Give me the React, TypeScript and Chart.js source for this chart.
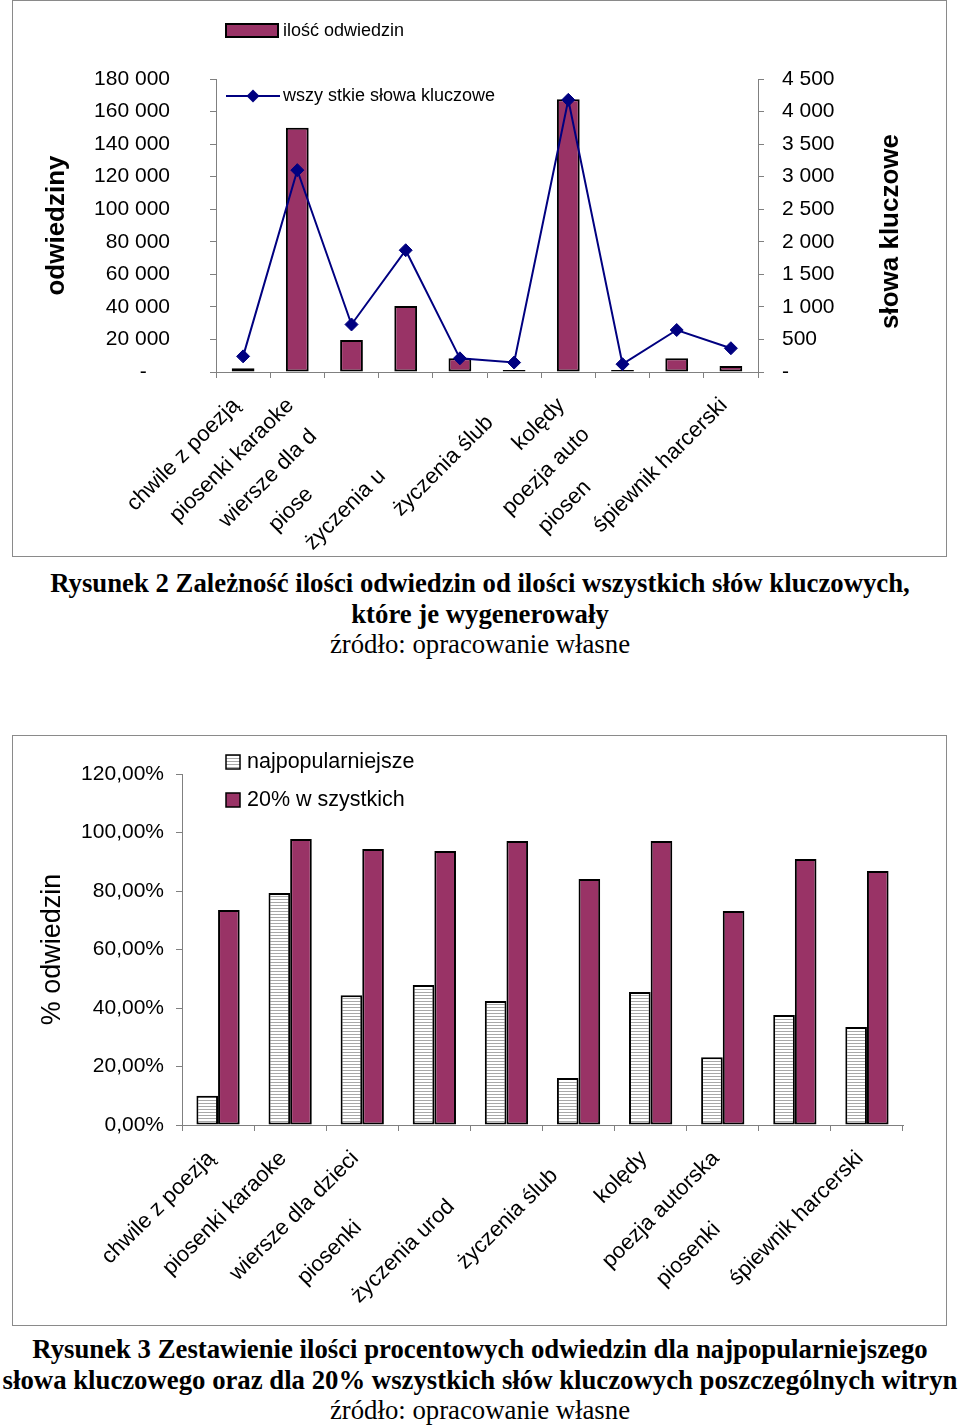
import React, { useEffect, useRef } from 'react';
import { Chart, registerables } from 'chart.js';

Chart.register(...registerables);

const FONT = "'Liberation Sans', Arial, sans-serif";
const SERIF = "'Liberation Serif', 'Times New Roman', serif";
const PLUM = '#993366';
const NAVY = '#000080';
const AXIS = '#808080';

// ---- data ----
const categories = [
  'chwile z poezją',
  'piosenki karaoke',
  'wiersze dla dzieci',
  'piosenki dla dzieci',
  'życzenia urodzinowe',
  'życzenia ślubne',
  'kolędy',
  'poezja autorska',
  'piosenki biesiadne',
  'śpiewnik harcerski',
];
// visible (clipped) parts of the category labels as they appear on each chart
const shownLabels1 = [
  'chwile z poezją', 'piosenki karaoke', 'wiersze dla d', 'piose', 'życzenia u',
  'życzenia ślub', 'kolędy', 'poezja auto', 'piosen', 'śpiewnik harcerski',
];
const shownLabels2 = [
  'chwile z poezją', 'piosenki karaoke', 'wiersze dla dzieci', 'piosenki', 'życzenia urod',
  'życzenia ślub', 'kolędy', 'poezja autorska', 'piosenki', 'śpiewnik harcerski',
];
const visits = [2300, 150000, 19700, 40500, 8400, 1200, 167500, 1200, 8400, 3700];
const keywords = [240, 3100, 730, 1870, 210, 145, 4180, 120, 645, 365];
const popularPct = [10.0, 79.3, 44.4, 47.9, 42.4, 16.1, 45.5, 23.2, 37.6, 33.5];
const top20Pct = [73.5, 97.8, 94.4, 93.7, 97.1, 84.1, 97.1, 73.2, 90.9, 86.8];

const visitsAxis = { min: 0, max: 180000, step: 20000 };
const keywordsAxis = { min: 0, max: 4500, step: 500 };
const pctAxis = { min: 0, max: 120, step: 20 };

const caption1 = [
  'Rysunek 2 Zależność ilości odwiedzin od ilości wszystkich słów kluczowych,',
  'które je wygenerowały',
  'źródło: opracowanie własne',
];
const caption2 = [
  'Rysunek 3 Zestawienie ilości procentowych odwiedzin dla najpopularniejszego',
  'słowa kluczowego oraz dla 20% wszystkich słów kluczowych poszczególnych witryn',
  'źródło: opracowanie własne',
];

const spaced = (v: number) =>
  v === 0 ? '-    ' : String(v).replace(/\B(?=(\d{3})+(?!\d))/g, ' ');
const spacedRight = (v: number) =>
  v === 0 ? '-' : String(v).replace(/\B(?=(\d{3})+(?!\d))/g, ' ');
const pctFmt = (v: number) => v.toFixed(2).replace('.', ',') + '%';

function rotatedLabels(shown: string[], full: string[]) {
  return {
    id: 'rotLabels',
    afterDraw(chart: any) {
      const sc = chart.scales.x;
      const ctx = chart.ctx;
      ctx.save();
      ctx.font = `22px ${FONT}`;
      ctx.fillStyle = '#000';
      ctx.textBaseline = 'middle';
      ctx.textAlign = 'left';
      full.forEach((f, i) => {
        const x = sc.getPixelForValue(i) - 7;
        const y = sc.top + 30;
        const w = ctx.measureText(f).width;
        ctx.save();
        ctx.translate(x, y);
        ctx.rotate(-Math.PI / 4);
        ctx.fillText(shown[i], -w, 0);
        ctx.restore();
      });
      ctx.restore();
    },
  };
}

function makeHatch(): CanvasPattern | string {
  const c = document.createElement('canvas');
  c.width = 6;
  c.height = 3;
  const g = c.getContext('2d');
  if (!g) return '#fff';
  g.fillStyle = '#ffffff';
  g.fillRect(0, 0, 6, 3);
  g.fillStyle = '#a8a8a8';
  g.fillRect(0, 1, 6, 1);
  return g.createPattern(c, 'repeat') || '#fff';
}

const axisGrid = { drawOnChartArea: false, drawTicks: true, tickLength: 6, color: AXIS, lineWidth: 1 };
const axisBorder = { display: true, color: AXIS, width: 1 };

export default function App() {
  const ref1 = useRef<HTMLCanvasElement>(null);
  const ref2 = useRef<HTMLCanvasElement>(null);

  useEffect(() => {
    Chart.defaults.font.family = FONT;
    Chart.defaults.color = '#000';
    const charts: Chart[] = [];

    if (ref1.current) {
      const extras1 = {
        id: 'extras1',
        afterDraw(chart: any) {
          const ctx = chart.ctx;
          ctx.save();
          // legend: bars
          ctx.fillStyle = PLUM;
          ctx.fillRect(213, 23, 52, 13);
          ctx.strokeStyle = '#000';
          ctx.lineWidth = 2;
          ctx.strokeRect(213, 23, 52, 13);
          ctx.fillStyle = '#000';
          ctx.font = `18px ${FONT}`;
          ctx.textBaseline = 'middle';
          ctx.textAlign = 'left';
          ctx.fillText(chart.data.datasets[1].label, 270, 30);
          // legend: line
          ctx.strokeStyle = NAVY;
          ctx.lineWidth = 2;
          ctx.beginPath();
          ctx.moveTo(213, 95);
          ctx.lineTo(267, 95);
          ctx.stroke();
          ctx.fillStyle = NAVY;
          ctx.beginPath();
          ctx.moveTo(240, 88.5);
          ctx.lineTo(246.5, 95);
          ctx.lineTo(240, 101.5);
          ctx.lineTo(233.5, 95);
          ctx.closePath();
          ctx.fill();
          ctx.fillStyle = '#000';
          ctx.fillText(chart.data.datasets[0].label, 270, 95);
          // right axis title (reads bottom-to-top)
          const y2 = chart.scales.y2;
          ctx.save();
          ctx.translate(878, (y2.top + y2.bottom) / 2 + 6);
          ctx.rotate(-Math.PI / 2);
          ctx.font = `bold 26px ${FONT}`;
          ctx.textAlign = 'center';
          ctx.textBaseline = 'middle';
          ctx.fillText('słowa kluczowe', 0, 0);
          ctx.restore();
          ctx.restore();
        },
      };

      charts.push(
        new Chart(ref1.current, {
          type: 'bar',
          data: {
            labels: categories,
            datasets: [
              {
                type: 'line',
                label: 'wszy stkie słowa kluczowe',
                data: keywords,
                yAxisID: 'y2',
                borderColor: NAVY,
                backgroundColor: NAVY,
                borderWidth: 2,
                pointStyle: 'rectRot',
                pointRadius: 6.5,
                pointBackgroundColor: NAVY,
                pointBorderColor: NAVY,
                pointBorderWidth: 1,
                tension: 0,
                order: 0,
                clip: false,
              } as any,
              {
                type: 'bar',
                label: 'ilość odwiedzin',
                data: visits,
                yAxisID: 'y',
                backgroundColor: PLUM,
                borderColor: '#000',
                borderWidth: 2,
                borderSkipped: false,
                categoryPercentage: 1,
                barPercentage: 0.42,
                order: 1,
              } as any,
            ],
          },
          options: {
            responsive: false,
            animation: false,
            events: [],
            layout: { padding: { top: 78, left: 0, right: 0, bottom: 0 } },
            plugins: { legend: { display: false }, tooltip: { enabled: false } },
            scales: {
              x: {
                ticks: { display: false },
                grid: axisGrid,
                border: axisBorder,
                afterFit: (s: any) => {
                  s.height = 184;
                },
              },
              y: {
                position: 'left',
                min: visitsAxis.min,
                max: visitsAxis.max,
                ticks: {
                  stepSize: visitsAxis.step,
                  padding: 40,
                  color: '#000',
                  font: { size: 21 },
                  callback: (v: any) => spaced(Number(v)),
                },
                grid: axisGrid,
                border: axisBorder,
                title: {
                  display: true,
                  text: 'odwiedziny',
                  color: '#000',
                  font: { size: 26, weight: 'bold' },
                  padding: { top: 28, bottom: 0 },
                },
                afterFit: (s: any) => {
                  s.width = 203;
                },
              },
              y2: {
                position: 'right',
                min: keywordsAxis.min,
                max: keywordsAxis.max,
                ticks: {
                  stepSize: keywordsAxis.step,
                  padding: 18,
                  color: '#000',
                  font: { size: 21 },
                  callback: (v: any) => spacedRight(Number(v)),
                },
                grid: axisGrid,
                border: axisBorder,
                afterFit: (s: any) => {
                  s.width = 188;
                },
              },
            },
          } as any,
          plugins: [rotatedLabels(shownLabels1, categories), extras1],
        })
      );
    }

    if (ref2.current) {
      const hatch = makeHatch();
      const extras2 = {
        id: 'extras2',
        afterDraw(chart: any) {
          const ctx = chart.ctx;
          ctx.save();
          const items = [
            { fill: hatch, y: 19, text: chart.data.datasets[0].label, ty: 26 },
            { fill: PLUM, y: 57, text: chart.data.datasets[1].label, ty: 64 },
          ];
          items.forEach((it) => {
            ctx.fillStyle = it.fill as any;
            ctx.fillRect(213, it.y, 14, 14);
            ctx.strokeStyle = '#000';
            ctx.lineWidth = 1.5;
            ctx.strokeRect(213, it.y, 14, 14);
            ctx.fillStyle = '#000';
            ctx.font = `21.5px ${FONT}`;
            ctx.textBaseline = 'middle';
            ctx.textAlign = 'left';
            ctx.fillText(it.text, 234, it.ty);
          });
          ctx.restore();
        },
      };

      charts.push(
        new Chart(ref2.current, {
          type: 'bar',
          data: {
            labels: categories,
            datasets: [
              {
                label: 'najpopularniejsze',
                data: popularPct,
                backgroundColor: hatch as any,
                borderColor: '#000',
                borderWidth: 2,
                borderSkipped: false,
                categoryPercentage: 0.6,
                barPercentage: 1,
              } as any,
              {
                label: '20% w szystkich',
                data: top20Pct,
                backgroundColor: PLUM,
                borderColor: '#000',
                borderWidth: 2,
                borderSkipped: false,
                categoryPercentage: 0.6,
                barPercentage: 1,
              } as any,
            ],
          },
          options: {
            responsive: false,
            animation: false,
            events: [],
            layout: { padding: { top: 38, left: 0, right: 43, bottom: 0 } },
            plugins: { legend: { display: false }, tooltip: { enabled: false } },
            scales: {
              x: {
                ticks: { display: false },
                grid: axisGrid,
                border: axisBorder,
                afterFit: (s: any) => {
                  s.height = 199;
                },
              },
              y: {
                position: 'left',
                min: pctAxis.min,
                max: pctAxis.max,
                ticks: {
                  stepSize: pctAxis.step,
                  padding: 12,
                  color: '#000',
                  font: { size: 21 },
                  callback: (v: any) => pctFmt(Number(v)),
                },
                grid: axisGrid,
                border: axisBorder,
                title: {
                  display: true,
                  text: '% odwiedzin',
                  color: '#000',
                  font: { size: 27, weight: 'normal' },
                  padding: { top: 23, bottom: 0 },
                },
                afterFit: (s: any) => {
                  s.width = 169;
                },
              },
            },
          } as any,
          plugins: [rotatedLabels(shownLabels2, categories), extras2],
        })
      );
    }

    return () => {
      charts.forEach((c) => c.destroy());
    };
  }, []);

  const capLine = (text: string, top: number, bold: boolean, key: string) => (
    <div
      key={key}
      style={{
        position: 'absolute',
        left: 0,
        top,
        width: 960,
        height: 31,
        lineHeight: '31px',
        textAlign: 'center',
        whiteSpace: 'nowrap',
        fontFamily: SERIF,
        fontSize: 26.75,
        fontWeight: bold ? 'bold' : 'normal',
        color: '#000',
      }}
    >
      {text}
    </div>
  );

  return (
    <div style={{ position: 'absolute', left: 0, top: 0, width: 960, height: 1427, background: '#fff', overflow: 'hidden' }}>
      <div style={{ position: 'absolute', left: 12, top: 0, width: 935, height: 557, border: '1px solid #8a8a8a', boxSizing: 'border-box' }} />
      <canvas ref={ref1} width={933} height={555} style={{ position: 'absolute', left: 13, top: 1 }} />
      {capLine(caption1[0], 568, true, 'c10')}
      {capLine(caption1[1], 599, true, 'c11')}
      {capLine(caption1[2], 629, false, 'c12')}

      <div style={{ position: 'absolute', left: 12, top: 735, width: 935, height: 591, border: '1px solid #8a8a8a', boxSizing: 'border-box' }} />
      <canvas ref={ref2} width={933} height={588} style={{ position: 'absolute', left: 13, top: 736 }} />
      {capLine(caption2[0], 1334, true, 'c20')}
      {capLine(caption2[1], 1365, true, 'c21')}
      {capLine(caption2[2], 1395, false, 'c22')}
    </div>
  );
}
